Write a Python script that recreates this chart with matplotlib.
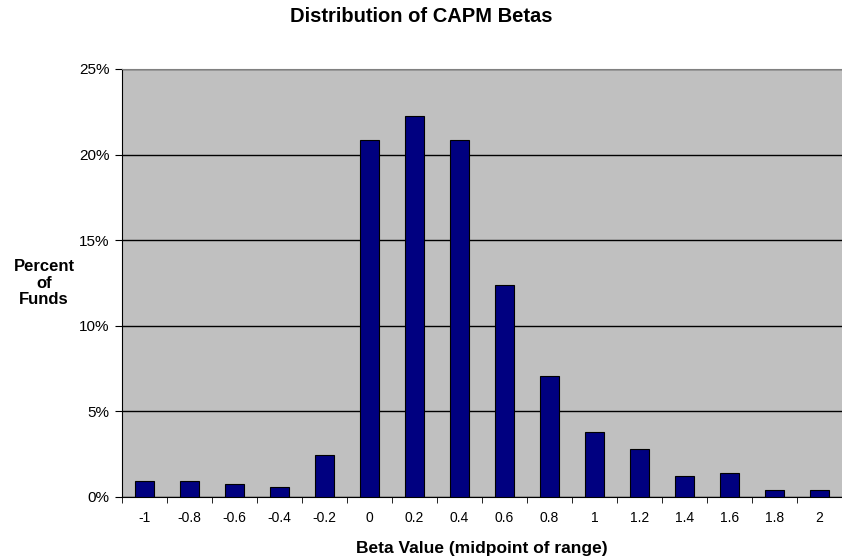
import matplotlib.pyplot as plt
import numpy as np

plt.rcParams["font.family"] = ["Liberation Sans", "DejaVu Sans"]

betas = ["-1", "-0.8", "-0.6", "-0.4", "-0.2", "0", "0.2", "0.4",
         "0.6", "0.8", "1", "1.2", "1.4", "1.6", "1.8", "2"]
pct_funds = [0.92, 0.92, 0.74, 0.57, 2.47, 20.85, 22.24, 20.85,
             12.4, 7.09, 3.81, 2.8, 1.24, 1.42, 0.39, 0.39]

fig = plt.figure(figsize=(8.42, 5.6), dpi=100)
ax = fig.add_axes([122 / 842, 1 - 497 / 560, 720 / 842, 428 / 560])
ax.set_facecolor("#C0C0C0")

x = np.arange(len(betas))
ax.bar(x, pct_funds, width=0.41, color="#000080", edgecolor="black",
       linewidth=0.8, zorder=3)

ax.set_xlim(-0.5, len(betas) - 0.5)
ax.set_ylim(0, 25)
ax.set_yticks(np.arange(0, 26, 5))
ax.set_yticklabels([f"{v}%" for v in range(0, 26, 5)], fontsize=11)
ax.yaxis.grid(True, color="black", linewidth=1, zorder=1)

ax.set_xticks(x)
ax.set_xticklabels(betas, fontsize=10)
ax.tick_params(axis="x", length=0, pad=10)
ax.set_xticks(np.arange(-0.5, len(betas), 1), minor=True)
ax.tick_params(axis="x", which="minor", length=4, direction="out", color="black")
ax.tick_params(axis="y", length=5, direction="out", pad=4)

ax.spines["top"].set_color("#808080")
ax.spines["right"].set_visible(False)
ax.spines["left"].set_color("black")
ax.spines["bottom"].set_color("black")

fig.text(0.5, 1 - 17 / 560, "Distribution of CAPM Betas",
         ha="center", va="center", fontsize=14.5, fontweight="bold")
fig.text(482 / 842, 1 - 548 / 560, "Beta Value (midpoint of range)",
         ha="center", va="center", fontsize=12.5, fontweight="bold")
fig.text(44 / 842, 1 - 283 / 560, "Percent\nof\nFunds",
         ha="center", va="center", fontsize=12, fontweight="bold",
         linespacing=1.15)

fig.savefig("out.png", dpi=100)
